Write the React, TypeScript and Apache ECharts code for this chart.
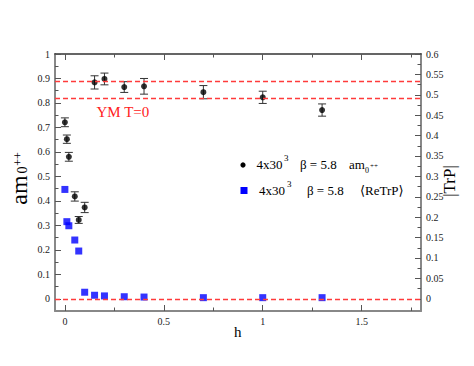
import React, { useEffect, useRef } from "react";
import * as echarts from "echarts";

// ---- data ----
const hValues = [0, 0.01, 0.02, 0.05, 0.07, 0.1, 0.15, 0.2, 0.3, 0.4, 0.7, 1.0, 1.3];
const am0 = [0.721, 0.652, 0.58, 0.418, 0.322, 0.373, 0.884, 0.898, 0.865, 0.868, 0.844, 0.823, 0.771];
const am0Err = [0.018, 0.017, 0.018, 0.019, 0.014, 0.021, 0.027, 0.024, 0.022, 0.032, 0.027, 0.025, 0.025];
const reTrP = [0.268, 0.189, 0.179, 0.144, 0.117, 0.016, 0.0086, 0.007, 0.005, 0.0042, 0.0027, 0.0027, 0.0027];
const refLines = [0.89, 0.82, 0];

const xMajor = [0, 0.5, 1, 1.5];
const xMinor = [0.25, 0.75, 1.25, 1.75];
const yLeftMajor = [0, 0.1, 0.2, 0.3, 0.4, 0.5, 0.6, 0.7, 0.8, 0.9, 1];
const yLeftMinor = [0.05, 0.15, 0.25, 0.35, 0.45, 0.55, 0.65, 0.75, 0.85, 0.95];
const yRightMajor = [0, 0.05, 0.1, 0.15, 0.2, 0.25, 0.3, 0.35, 0.4, 0.45, 0.5, 0.55, 0.6];
const yRightMinor = [0.025, 0.075, 0.125, 0.175, 0.225, 0.275, 0.325, 0.375, 0.425, 0.475, 0.525, 0.575];

const SERIF = "Liberation Serif, DejaVu Serif, serif";
const fmt = (v: number) => String(parseFloat(Number(v).toFixed(3)));

function majorAxis(extra: any, values: number[], showLabel: boolean, lineColor: string, lineWidth: number) {
  return {
    type: "value",
    splitLine: { show: false },
    axisLine: { show: true, onZero: false, lineStyle: { color: lineColor, width: lineWidth } },
    axisTick: { show: true, inside: true, length: 6, customValues: values, lineStyle: { color: "#555", width: 1 } },
    axisLabel: {
      show: showLabel,
      customValues: values,
      formatter: fmt,
      fontFamily: SERIF,
      fontSize: 10,
      color: "#222",
      margin: 5,
    },
    ...extra,
  };
}
function minorAxis(extra: any, values: number[]) {
  return {
    type: "value",
    splitLine: { show: false },
    axisLine: { show: false, onZero: false },
    axisTick: { show: true, inside: true, length: 3.5, customValues: values, lineStyle: { color: "#555", width: 1 } },
    axisLabel: { show: false },
    ...extra,
  };
}

export default function App() {
  const ref = useRef<HTMLDivElement>(null);
  useEffect(() => {
    if (!ref.current) return;
    const chart = echarts.init(ref.current, null, { renderer: "svg" });
    const xr = { min: -0.05, max: 1.8 };
    const yl = { min: -0.05, max: 1 };
    const yr = { min: -0.03, max: 0.6 };
    const errData = hValues.map((h, i) => [h, am0[i], am0[i] - am0Err[i], am0[i] + am0Err[i]]);
    const t = (text: string, x: number, y: number, size: number, extra: any = {}, styleExtra: any = {}) => ({
      type: "text",
      x,
      y,
      silent: true,
      ...extra,
      style: { text, fontSize: size, fontFamily: SERIF, fill: "#000", align: "left", verticalAlign: "middle", ...styleExtra },
    });
    chart.setOption({
      animation: false,
      backgroundColor: "#fff",
      grid: { left: 55, right: 53, top: 54, bottom: 55, containLabel: false },
      xAxis: [
        majorAxis({ position: "bottom", ...xr }, xMajor, true, "#888", 2),
        minorAxis({ position: "bottom", ...xr }, xMinor),
        majorAxis({ position: "top", ...xr }, xMajor, false, "#333", 1.5),
        minorAxis({ position: "top", ...xr }, xMinor),
      ],
      yAxis: [
        majorAxis({ position: "left", ...yl }, yLeftMajor, true, "#888", 2),
        minorAxis({ position: "left", ...yl }, yLeftMinor),
        majorAxis({ position: "right", ...yr }, yRightMajor, true, "#888", 2),
        minorAxis({ position: "right", ...yr }, yRightMinor),
      ],
      series: [
        {
          type: "custom",
          xAxisIndex: 0,
          yAxisIndex: 0,
          silent: true,
          data: errData,
          renderItem: (params: any, api: any) => {
            const x = api.value(0);
            const lo = api.coord([x, api.value(2)]);
            const hi = api.coord([x, api.value(3)]);
            const cw = 4;
            const st = { stroke: "#333", lineWidth: 1 };
            return {
              type: "group",
              children: [
                { type: "line", shape: { x1: lo[0], y1: lo[1], x2: hi[0], y2: hi[1] }, style: st },
                { type: "line", shape: { x1: lo[0] - cw, y1: lo[1], x2: lo[0] + cw, y2: lo[1] }, style: st },
                { type: "line", shape: { x1: hi[0] - cw, y1: hi[1], x2: hi[0] + cw, y2: hi[1] }, style: st },
              ],
            };
          },
          z: 2,
        },
        {
          type: "scatter",
          xAxisIndex: 0,
          yAxisIndex: 0,
          symbol: "circle",
          symbolSize: 6,
          itemStyle: { color: "#000" },
          data: hValues.map((h, i) => [h, am0[i]]),
          markLine: {
            silent: true,
            symbol: "none",
            label: { show: false },
            lineStyle: { type: [5, 3], color: "#ff3b3b", width: 1.3 },
            data: refLines.map((v) => ({ yAxis: v })),
          },
          z: 3,
        },
        {
          type: "scatter",
          xAxisIndex: 0,
          yAxisIndex: 2,
          symbol: "rect",
          symbolSize: 7,
          itemStyle: { color: "#0000ff" },
          data: hValues.map((h, i) => [h, reTrP[i]]),
          z: 3,
        },
      ],
      graphic: [
        // axis titles
        t("am", 19, 190, 24, { rotation: Math.PI / 2 }, { align: "center" }),
        t("0", 22.5, 170, 14, { rotation: Math.PI / 2 }, { align: "center" }),
        t("++", 17.5, 159, 12, { rotation: Math.PI / 2 }, { align: "center" }),
        t("|TrP|", 449, 181, 17, { rotation: Math.PI / 2 }, { align: "center" }),
        t("h", 237.7, 331.5, 15, {}, { align: "center" }),
        // annotation
        t("YM T=0", 96.5, 112, 15, {}, { fill: "#ff2020" }),
        // legend
        { type: "circle", silent: true, shape: { cx: 243, cy: 165, r: 2.6 }, style: { fill: "#000" } },
        t("4x30", 256.5, 164.5, 13),
        t("3", 284, 158, 9),
        t("β = 5.8", 300, 164.5, 13),
        t("am", 349, 164.5, 13),
        t("0", 365, 170, 8),
        t("++", 370, 165.5, 7),
        { type: "rect", silent: true, shape: { x: 240.5, y: 187, width: 7, height: 7 }, style: { fill: "#0000ff" } },
        t("4x30", 259, 190, 13),
        t("3", 287, 183.5, 9),
        t("β = 5.8", 307, 190, 13),
        t("⟨ReTrP⟩", 360, 190, 13),
      ],
    });
    return () => chart.dispose();
  }, []);
  return <div ref={ref} style={{ position: "fixed", left: 0, top: 0, width: 474, height: 366 }} />;
}
